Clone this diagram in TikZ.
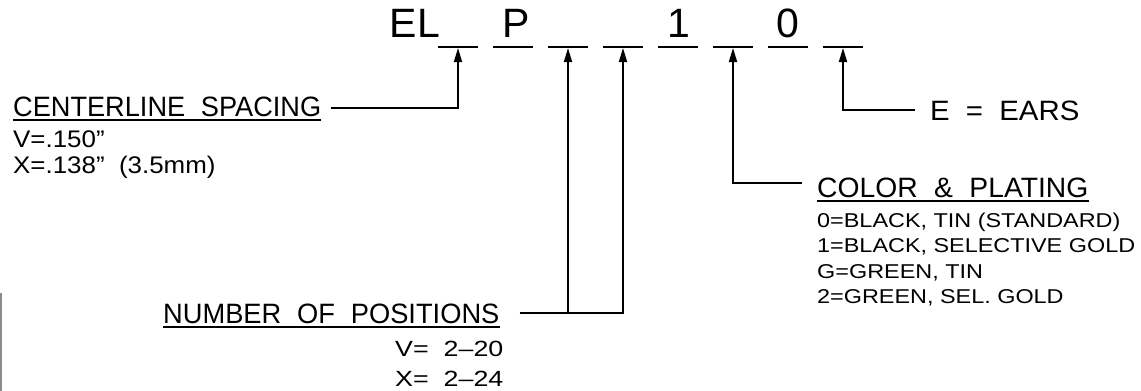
\documentclass[tikz,border=0pt]{standalone}
\usepackage{fontspec}
\usepackage{graphicx}
\setmainfont{Liberation Sans}
\usetikzlibrary{arrows.meta}
\newcommand{\cadtxt}[3]{{\fontsize{#1}{#1}\selectfont\scalebox{#2}[1]{#3}}}
\newcommand{\wsp}{\hspace{0.58em}}
\begin{document}
\begin{tikzpicture}[x=1pt,y=-1pt,
  ln/.style={line width=1.8pt},
  arr/.style={ln,-{Triangle[length=14pt,width=8pt]}},
  txt/.style={inner sep=0pt,anchor=base west},
  top/.style={inner sep=0pt,anchor=base}]
\useasboundingbox (0,0) rectangle (1141,391);
% part-number letters
\node[top] (el) at (415,37) {\cadtxt{41}{1}{EL}};
\node[top] (p) at (516,37) {\cadtxt{41}{1}{P}};
\node[top] (one) at (679,37) {\cadtxt{41}{1}{1}};
\node[top] (zero) at (788,37) {\cadtxt{41}{1}{0}};
% blank positions
\foreach \i/\x in {1/458,2/513,3/568,4/623,5/678,6/733,7/788,8/843}{
  \coordinate (s\i) at (\x,47);
  \coordinate (t\i) at (\x,48);
  \draw[ln] ([xshift=-20pt]s\i) -- ([xshift=20pt]s\i);
}
% centerline spacing
\node[txt] (cl) at (13,116) {\cadtxt{28}{0.97}{CENTERLINE\wsp SPACING}};
\draw[ln] ([yshift=-4pt]cl.base west) -- ([yshift=-4pt]cl.base east);
\node[txt] (v1) at (13,147) {\cadtxt{24}{1.08}{V=.150”}};
\node[txt] (x1) at (13,173) {\cadtxt{24}{1.08}{X=.138”\ \ (3.5mm)}};
\draw[arr] ([xshift=10pt,yshift=-2pt]cl.east) -| (t1);
% number of positions
\node[txt] (np) at (163,323) {\cadtxt{28}{0.974}{NUMBER\wsp OF\wsp POSITIONS}};
\draw[ln] ([yshift=-4pt]np.base west) -- ([yshift=-4pt]np.base east);
\node[txt] (v2) at (395,356) {\cadtxt{22}{1.22}{V=\ \ 2–20}};
\node[txt] (x2) at (395,386) {\cadtxt{22}{1.22}{X=\ \ 2–24}};
\draw[arr] ([xshift=20pt]np.east) -| (t4);
\draw[arr] (t3 |- np.east) -- (t3);
% color & plating
\node[txt] (cp) at (817,197) {\cadtxt{28}{1.01}{COLOR\wsp \&\wsp PLATING}};
\draw[ln] ([yshift=-4pt]cp.base west) -- ([yshift=-4pt]cp.base east);
\node[txt] (c0) at (817,227) {\cadtxt{20}{1.17}{0=BLACK, TIN (STANDARD)}};
\node[txt] (c1) at (817,252.5) {\cadtxt{20}{1.17}{1=BLACK, SELECTIVE GOLD}};
\node[txt] (c2) at (817,278) {\cadtxt{20}{1.17}{G=GREEN, TIN}};
\node[txt] (c3) at (817,303.5) {\cadtxt{20}{1.17}{2=GREEN, SEL. GOLD}};
\draw[arr] ([xshift=-15pt,yshift=4pt]cp.west) -| (t6);
% ears
\node[txt] (ea) at (930,120) {\cadtxt{28}{1.05}{E\hspace{0.55em}=\hspace{0.55em}EARS}};
\draw[arr] ([xshift=-15pt]ea.west) -| (t8);
% scan edge
\draw[line width=1.5pt,black!45] (1,293) -- (1,391);
\end{tikzpicture}
\end{document}
